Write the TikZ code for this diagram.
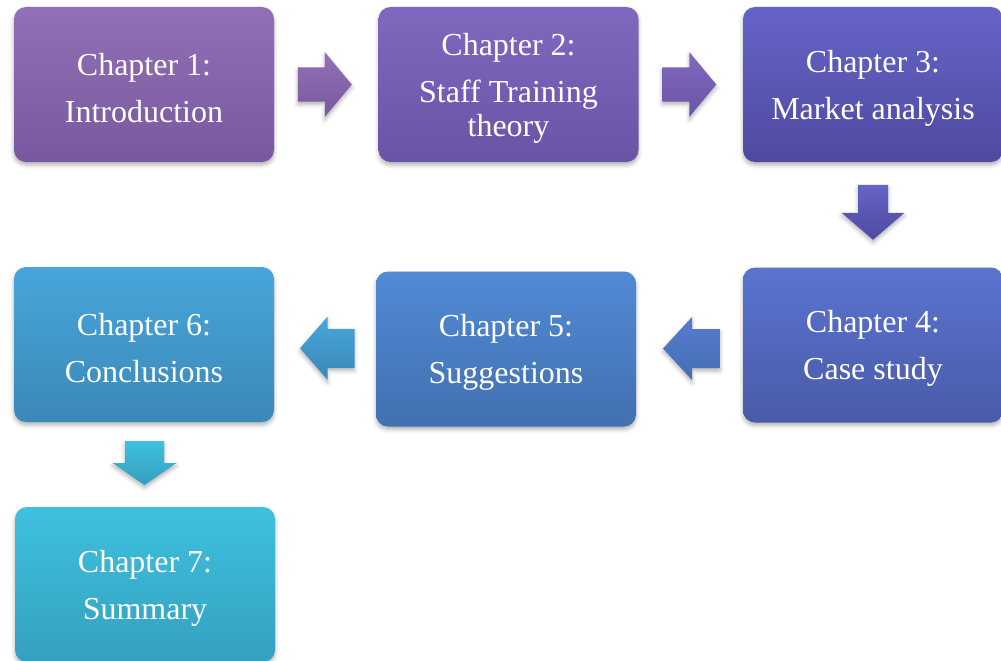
\documentclass[tikz,border=0pt]{standalone}
\usepackage{fontspec}
\setmainfont{Liberation Serif}
\usetikzlibrary{calc,shadows.blur}

% gradient pairs for boxes and block arrows
\definecolor{boxAt}{HTML}{9270B7}\definecolor{boxAb}{HTML}{78589E}
\definecolor{boxBt}{HTML}{7F68BF}\definecolor{boxBb}{HTML}{6A54A6}
\definecolor{boxCt}{HTML}{6564C7}\definecolor{boxCb}{HTML}{4F4AA0}
\definecolor{boxDt}{HTML}{5A74CF}\definecolor{boxDb}{HTML}{4A5AA8}
\definecolor{boxEt}{HTML}{518AD5}\definecolor{boxEb}{HTML}{4270B0}
\definecolor{boxFt}{HTML}{48A6DA}\definecolor{boxFb}{HTML}{3A88B8}
\definecolor{boxGt}{HTML}{3EC1DF}\definecolor{boxGb}{HTML}{35A0BF}

\tikzset{
  softshadow/.style={blur shadow={shadow xshift=0pt, shadow yshift=-3pt,
      shadow blur radius=4pt, shadow opacity=30}},
  chapbox/.style={rectangle, rounded corners=12pt, minimum width=260pt,
      minimum height=155pt, inner sep=0pt, softshadow},
  chaptext/.style={inner sep=0pt, align=center, text=white,
      font=\fontsize{32}{34}\selectfont, yshift=-3.5pt},
  blockarrow/.style={softshadow},
}

\begin{document}
\begin{tikzpicture}[x=1pt, y=-1pt]
  \useasboundingbox (0,0) rectangle (1001,661);

  % chapter boxes
  \node[chapbox, top color=boxAt, bottom color=boxAb] (b1) at (144,84.5) {};
  \node[chapbox, top color=boxBt, bottom color=boxBb] (b2) at (508.5,84.5) {};
  \node[chapbox, top color=boxCt, bottom color=boxCb] (b3) at (873,84.5) {};
  \node[chapbox, top color=boxDt, bottom color=boxDb] (b4) at (873,345) {};
  \node[chapbox, top color=boxEt, bottom color=boxEb] (b5) at (506,349) {};
  \node[chapbox, top color=boxFt, bottom color=boxFb] (b6) at (144,344.5) {};
  \node[chapbox, top color=boxGt, bottom color=boxGb] (b7) at (145,584.5) {};

  % chapter titles
  \node[chaptext] (t1) at (b1.center) {Chapter 1:\\[13pt]Introduction};
  \node[chaptext] (t2) at (b2.center) {Chapter 2:\\[13pt]Staff Training\\theory};
  \node[chaptext] (t3) at (b3.center) {Chapter 3:\\[13pt]Market analysis};
  \node[chaptext] (t4) at (b4.center) {Chapter 4:\\[13pt]Case study};
  \node[chaptext] (t5) at (b5.center) {Chapter 5:\\[13pt]Suggestions};
  \node[chaptext] (t6) at (b6.center) {Chapter 6:\\[13pt]Conclusions};
  \node[chaptext] (t7) at (b7.center) {Chapter 7:\\[13pt]Summary};

  % arrow anchor points between neighbouring boxes
  \coordinate (a12) at ($(b1.east)!0.5!(b2.west)+(-1.5,0)$);
  \coordinate (a23) at ($(b2.east)!0.5!(b3.west)+(-1.5,0)$);
  \coordinate (a34) at ($(b3.south)!0.5!(b4.north)+(0,-2.5)$);
  \coordinate (a45) at ($(b4.west)!0.5!(b5.east)+(2,1.5)$);
  \coordinate (a56) at ($(b5.west)!0.5!(b6.east)+(2,1.5)$);
  \coordinate (a67) at ($(b6.south)!0.5!(b7.north)+(0,-1.5)$);

  % right-pointing block arrows
  \shade[blockarrow, top color=boxAt, bottom color=boxAb, shift={(a12)}]
    (-27,-17) -- (0,-17) -- (0,-32.5) -- (27,0) -- (0,32.5) -- (0,17) -- (-27,17) -- cycle;
  \shade[blockarrow, top color=boxBt!90!boxAt, bottom color=boxBb, shift={(a23)}]
    (-27,-17) -- (0,-17) -- (0,-32.5) -- (27,0) -- (0,32.5) -- (0,17) -- (-27,17) -- cycle;

  % downward block arrows
  \shade[blockarrow, top color=boxCt, bottom color=boxCb, shift={(a34)}]
    (-15,-27.5) -- (15,-27.5) -- (15,0.5) -- (31.5,0.5) -- (0,27.5) -- (-31.5,0.5) -- (-15,0.5) -- cycle;
  \shade[blockarrow, top color=boxGt, bottom color=boxGb!90!boxFb, shift={(a67)}]
    (-19.5,-22) -- (19.5,-22) -- (19.5,0) -- (32,0) -- (0,22) -- (-32,0) -- (-19.5,0) -- cycle;

  % left-pointing block arrows
  \shade[blockarrow, top color=boxDt!70!boxEt, bottom color=boxEb, shift={(a45)}]
    (28.5,-19.5) -- (0.5,-19.5) -- (0.5,-31.5) -- (-28.5,0) -- (0.5,31.5) -- (0.5,19.5) -- (28.5,19.5) -- cycle;
  \shade[blockarrow, top color=boxFt, bottom color=boxFb, shift={(a56)}]
    (27.5,-19.5) -- (0.5,-19.5) -- (0.5,-31.5) -- (-27,0) -- (0.5,31.5) -- (0.5,19.5) -- (27.5,19.5) -- cycle;
\end{tikzpicture}
\end{document}
